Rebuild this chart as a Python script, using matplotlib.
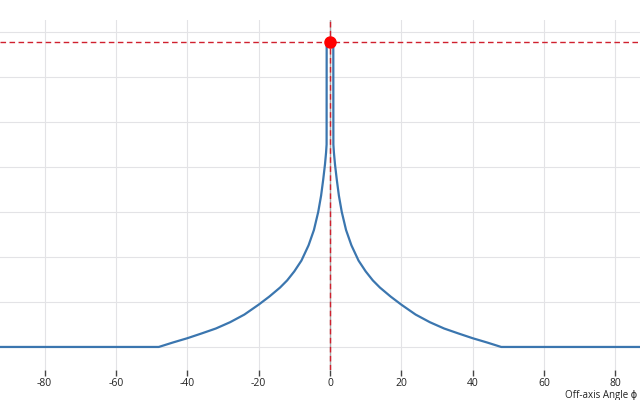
import numpy as np
import matplotlib.pyplot as plt

plt.rcParams['font.family'] = ['Open Sans', 'DejaVu Sans']
plt.rcParams['axes.unicode_minus'] = False

# off-axis angle (deg) and response (left half, mirrored)
angle_left = [-100, -48, -44, -40, -36, -32, -28, -24, -20, -17, -14, -12,
              -10, -8, -6, -4.5, -3.3, -2.5, -1.9, -1.4, -1.1, -0.95, -0.93]
resp_left = [0, 0, 0.5, 0.97, 1.5, 2.05, 2.75, 3.6, 4.7, 5.6, 6.6, 7.4,
             8.4, 9.6, 11.3, 13.0, 15.0, 16.8, 18.6, 20.3, 21.6, 22.5, 33.9]

peak_angle = 0
peak_value = 33.9

angle = angle_left + [peak_angle] + [-a for a in angle_left[::-1]]
resp = resp_left + [peak_value] + resp_left[::-1]

xticks = [-80, -60, -40, -20, 0, 20, 40, 60, 80]
yticks = [0, 5, 10, 15, 20, 25, 30, 35]

fig = plt.figure(figsize=(6.4, 4), dpi=100)
ax = fig.add_axes([0, 0.075, 1, 0.875])

ax.plot(angle, resp, color='#3b76af', lw=1.6, zorder=3)
ax.axhline(peak_value, color='#d0202e', lw=1, ls=(0, (4, 2.5)), zorder=4)
ax.axvline(peak_angle, color='#a9a9a9', lw=1, zorder=2)
ax.axvline(peak_angle, color='#d0202e', lw=1, ls=(0, (4, 2.5)), zorder=4)
ax.plot([peak_angle], [peak_value], 'o', color='#ff0000', ms=8, zorder=5)

ax.set_xlim(-92.5, 86.9)
ax.set_ylim(-2.56, 36.33)
ax.set_xticks(xticks)
ax.set_yticks(yticks)
ax.set_yticklabels([])
ax.tick_params(axis='y', length=0)
ax.tick_params(axis='x', length=4, width=1, color='#444444', labelsize=7.5,
               pad=1.5, labelcolor='#222222')
ax.grid(True, color='#e3e3e6', lw=0.8)
ax.set_axisbelow(True)
for s in ax.spines.values():
    s.set_visible(False)

ax.set_xlabel('Off-axis Angle ϕ', fontsize=7, color='#222222', ha='left')
ax.xaxis.set_label_coords(565 / 640, -0.056)

fig.savefig('out.png', dpi=100)
